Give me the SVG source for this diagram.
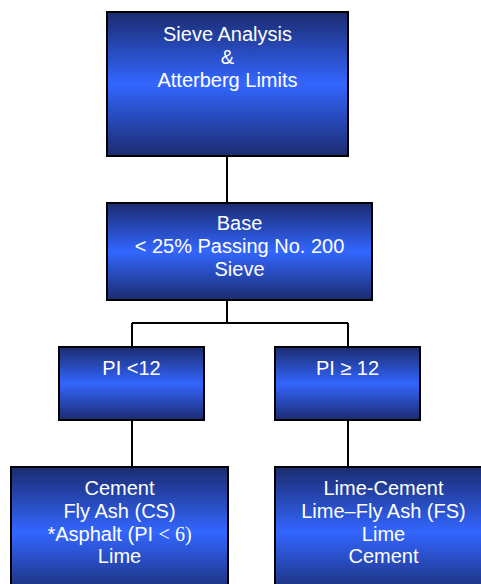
<svg xmlns="http://www.w3.org/2000/svg" width="481" height="584" viewBox="0 0 481 584">
<defs>
<linearGradient id="g" x1="0" y1="0" x2="0" y2="1">
<stop offset="0" stop-color="#1b2b6e"/>
<stop offset="0.5" stop-color="#3366ff"/>
<stop offset="1" stop-color="#1b2b6e"/>
</linearGradient>
</defs>
<style>
.box{fill:url(#g);stroke:#000;stroke-width:2}
.t{font-family:"Liberation Sans",Arial,sans-serif;font-size:20px;fill:#fff;text-anchor:middle}
.s{font-family:"Liberation Serif","Times New Roman",serif}
.c{stroke:#000;stroke-width:2;fill:none}
</style>
<rect width="481" height="584" fill="#fff"/>
<g id="connectors">
<path class="c" d="M227 156V203M227 300V323M132 323H348M132 323V347M348 323V347M132 420V467M348 420V467"/>
</g>
<g id="n1">
<rect class="box" x="107" y="12" width="241" height="144"/>
<text class="t" x="227.5" y="41">Sieve Analysis</text>
<text class="t" x="227.5" y="64">&amp;</text>
<text class="t" x="227.5" y="87">Atterberg Limits</text>
</g>
<g id="n2">
<rect class="box" x="107" y="203" width="265" height="97"/>
<text class="t" x="239.5" y="230">Base</text>
<text class="t" x="239.5" y="253">&lt; 25% Passing No. 200</text>
<text class="t" x="239.5" y="276">Sieve</text>
</g>
<g id="n3">
<rect class="box" x="59" y="347" width="145" height="73"/>
<text class="t" x="131.5" y="375">PI &lt;12</text>
</g>
<g id="n4">
<rect class="box" x="275" y="347" width="145" height="73"/>
<text class="t" x="347.5" y="375">PI ≥ 12</text>
</g>
<g id="n5">
<rect class="box" x="11" y="467" width="217" height="130"/>
<text class="t" x="119.5" y="495">Cement</text>
<text class="t" x="119.5" y="518">Fly Ash (CS)</text>
<text class="t" x="119.5" y="541">*Asphalt (PI <tspan class="s">&lt; 6)</tspan></text>
<text class="t" x="119.5" y="563">Lime</text>
</g>
<g id="n6">
<rect class="box" x="275" y="467" width="217" height="130"/>
<text class="t" x="383.5" y="495">Lime-Cement</text>
<text class="t" x="383.5" y="518">Lime–Fly Ash (FS)</text>
<text class="t" x="383.5" y="541">Lime</text>
<text class="t" x="383.5" y="563">Cement</text>
</g>
</svg>
